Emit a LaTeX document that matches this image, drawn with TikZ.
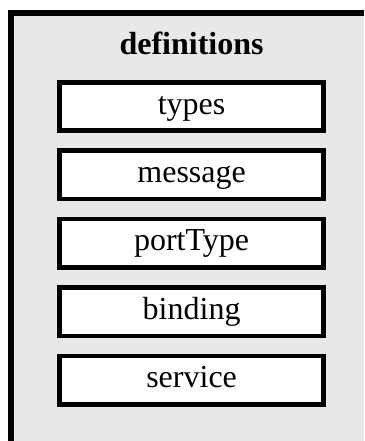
\documentclass[tikz,border=0pt]{standalone}
\usepackage{fontspec}
\setmainfont{Liberation Serif}
\definecolor{bggray}{RGB}{232,232,232}
\tikzset{
  part/.style={draw=black, fill=white, line width=4.7pt, minimum width=264pt, minimum height=48.4pt, inner sep=0pt, font=\fontsize{32}{36}\selectfont, text height=22pt, text depth=7pt},
  title/.style={font=\bfseries\fontsize{32}{36}\selectfont, inner sep=0pt, anchor=base}
}
\begin{document}
\begin{tikzpicture}[x=1pt,y=-1pt]
\useasboundingbox (0,0) rectangle (364,441);
\fill[bggray] (8,10) rectangle (364,441);
\draw[line width=5.8pt] (11,441) -- (11,13) -- (364,13);
\node[title] (defs) at (191.6,55) {definitions};
\node[part] (types) at (191.6,106.5) {types};
\node[part] (message) at (191.6,174.9) {message};
\node[part] (porttype) at (191.6,243.3) {portType};
\node[part] (binding) at (191.6,311.7) {binding};
\node[part] (service) at (191.6,380.1) {service};
\end{tikzpicture}
\end{document}
